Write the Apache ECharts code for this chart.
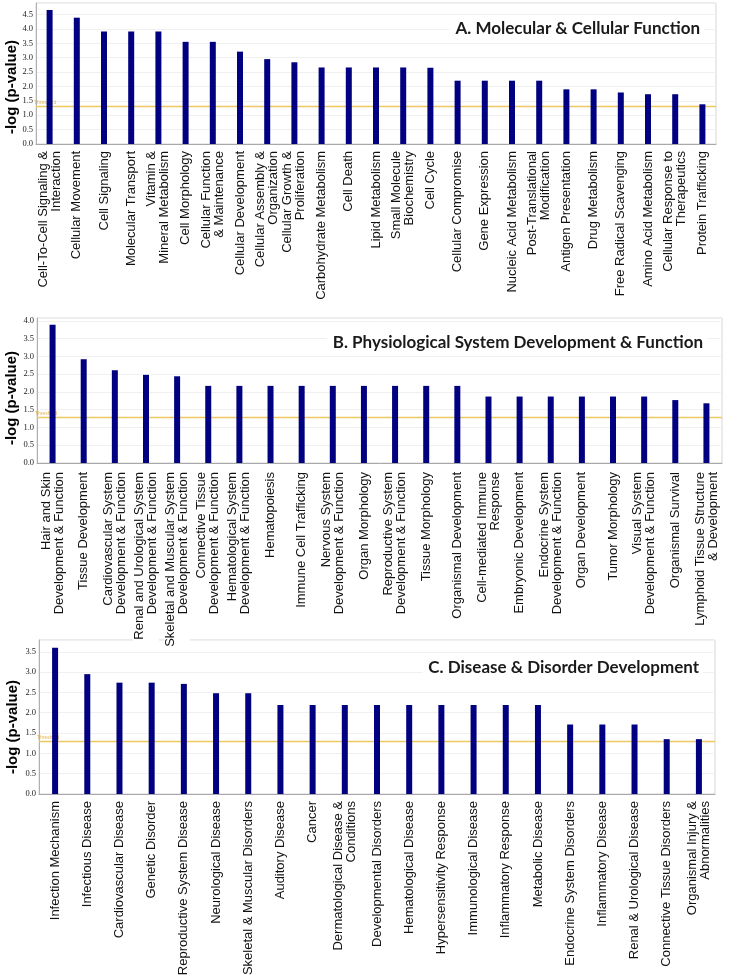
<!DOCTYPE html>
<html>
<head>
<meta charset="utf-8">
<script src="https://cdn.jsdelivr.net/npm/echarts@6/dist/echarts.min.js"></script>
<style>html,body{margin:0;padding:0;background:#fff;}#c{width:729px;height:979px;}</style>
</head>
<body>
<div id="c"></div>
<script>
const catsA = ["Cell-To-Cell Signaling &\nInteraction", "Cellular Movement", "Cell Signaling", "Molecular Transport", "Vitamin &\nMineral Metabolism", "Cell Morphology", "Cellular Function\n& Maintenance", "Cellular Development", "Cellular Assembly &\nOrganization", "Cellular Growth &\nProliferation", "Carbohydrate Metabolism", "Cell Death", "Lipid Metabolism", "Small Molecule\nBiochemistry", "Cell Cycle", "Cellular Compromise", "Gene Expression", "Nucleic Acid Metabolism", "Post-Translational\nModification", "Antigen Presentation", "Drug Metabolism", "Free Radical Scavenging", "Amino Acid Metabolism", "Cellular Response to\nTherapeutics", "Protein Trafficking"];
const valsA = [4.66, 4.39, 3.91, 3.91, 3.91, 3.55, 3.55, 3.21, 2.95, 2.84, 2.66, 2.66, 2.66, 2.66, 2.65, 2.20, 2.20, 2.20, 2.20, 1.90, 1.90, 1.79, 1.73, 1.73, 1.38];

const catsB = ["Hair and Skin\nDevelopment & Function", "Tissue Development", "Cardiovascular System\nDevelopment & Function", "Renal and Urological System\nDevelopment & Function", "Skeletal and Muscular System\nDevelopment & Function", "Connective Tissue\nDevelopment & Function", "Hematological System\nDevelopment & Function", "Hematopoiesis", "Immune Cell Trafficking", "Nervous System\nDevelopment & Function", "Organ Morphology", "Reproductive System\nDevelopment & Function", "Tissue Morphology", "Organismal Development", "Cell-mediated Immune\nResponse", "Embryonic Development", "Endocrine System\nDevelopment & Function", "Organ Development", "Tumor Morphology", "Visual System\nDevelopment & Function", "Organismal Survival", "Lymphoid Tissue Structure\n& Development"];
const valsB = [3.89, 2.92, 2.61, 2.48, 2.44, 2.17, 2.17, 2.17, 2.17, 2.17, 2.17, 2.17, 2.17, 2.17, 1.87, 1.87, 1.87, 1.87, 1.87, 1.87, 1.77, 1.68];

const catsC = ["Infection Mechanism", "Infectious Disease", "Cardiovascular Disease", "Genetic Disorder", "Reproductive System Disease", "Neurological Disease", "Skeletal & Muscular Disorders", "Auditory Disease", "Cancer", "Dermatological Disease &\nConditions", "Developmental Disorders", "Hematological Disease", "Hypersensitivity Response", "Immunological Disease", "Inflammatory Response", "Metabolic Disease", "Endocrine System Disorders", "Inflammatory Disease", "Renal & Urological Disease", "Connective Tissue Disorders", "Organismal Injury &\nAbnormalities"];
const valsC = [3.60, 2.95, 2.74, 2.74, 2.71, 2.48, 2.48, 2.19, 2.19, 2.19, 2.19, 2.19, 2.19, 2.19, 2.19, 2.19, 1.71, 1.71, 1.71, 1.35, 1.35];

const titles = ["A. Molecular & Cellular Function", "B. Physiological System Development & Function", "C. Disease & Disorder Development"];
const yName = "-log (p-value)";
const threshold = 1.3;
const thresholdLabel = "Threshold";
const yMax = [4.9, 4.08, 3.79];

const grids = [
  {left: 36, right: 13, top: 3, height: 141},
  {left: 37, right: 7, top: 318, height: 145},
  {left: 39, right: 14, top: 640, height: 154}
];
const cats = [catsA, catsB, catsC];
const vals = [valsA, valsB, valsC];
const titlePos = [[704, 29], [707, 343], [703, 668]];
const yNamePos = [[12, 87], [12, 398], [12.5, 727]];

const chart = echarts.init(document.getElementById('c'), null, {renderer: 'canvas'});

const barSeries = vals.map((v, i) => ({
  type: 'bar', xAxisIndex: i, yAxisIndex: i, data: v, barWidth: 6, z: 4,
  itemStyle: {color: '#000080'}
}));
const thrSeries = vals.map((v, i) => ({
  type: 'line', xAxisIndex: i, yAxisIndex: i, data: [], z: 1, silent: true,
  markLine: {
    silent: true, symbol: 'none', animation: false, z: 1,
    lineStyle: {color: '#efc862', width: 1.3, type: 'solid'},
    label: {show: true, position: 'insideStartTop', formatter: thresholdLabel, fontSize: 5, color: '#e3b450', distance: [-2, 1]},
    data: [{yAxis: threshold}]
  }
}));

const graphics = [];
titles.forEach((t, i) => {
  graphics.push({type: 'text', x: titlePos[i][0], y: titlePos[i][1], z: 100,
    style: {text: t, font: 'bold 17px Lato', fill: '#1a1a1a', textAlign: 'right', textVerticalAlign: 'middle',
      backgroundColor: '#fff', padding: [3, 4, 3, 6]}});
  graphics.push({type: 'text', x: yNamePos[i][0], y: yNamePos[i][1], rotation: Math.PI / 2, z: 100,
    style: {text: yName, font: 'bold 15px "Liberation Sans"', fill: '#000', textAlign: 'center', textVerticalAlign: 'middle'}});
});

const option = {
  animation: false,
  backgroundColor: '#fff',
  grid: grids.map(g => Object.assign({show: true, borderColor: '#d6d6d6', borderWidth: 1, backgroundColor: 'transparent'}, g)),
  xAxis: cats.map((c, i) => ({
    type: 'category', gridIndex: i, data: c, z: i === 1 ? 5 : 2,
    axisLine: {lineStyle: {color: '#a8a8a8', width: 1}},
    axisTick: {show: false},
    axisLabel: {
      rotate: 90, interval: 0, margin: 7,
      fontFamily: 'Liberation Sans', fontSize: 13, lineHeight: 13, color: '#111',
      backgroundColor: i === 1 ? '#fff' : 'transparent', padding: i === 1 ? [0, 2, 0, 2] : 0
    }
  })),
  yAxis: yMax.map((m, i) => ({
    type: 'value', gridIndex: i, min: 0, max: m, interval: 0.5,
    axisLine: {show: true, lineStyle: {color: '#b0b0b0'}},
    axisTick: {show: false},
    splitLine: {show: true, lineStyle: {color: '#f0f0f0', width: 1}},
    axisLabel: {
      showMaxLabel: false, margin: 3,
      fontFamily: 'Liberation Sans Narrow', fontSize: 8.5, color: '#222',
      formatter: v => v.toFixed(1)
    }
  })),
  series: thrSeries.concat(barSeries),
  graphic: graphics
};
chart.setOption(option);
</script>
</body>
</html>
